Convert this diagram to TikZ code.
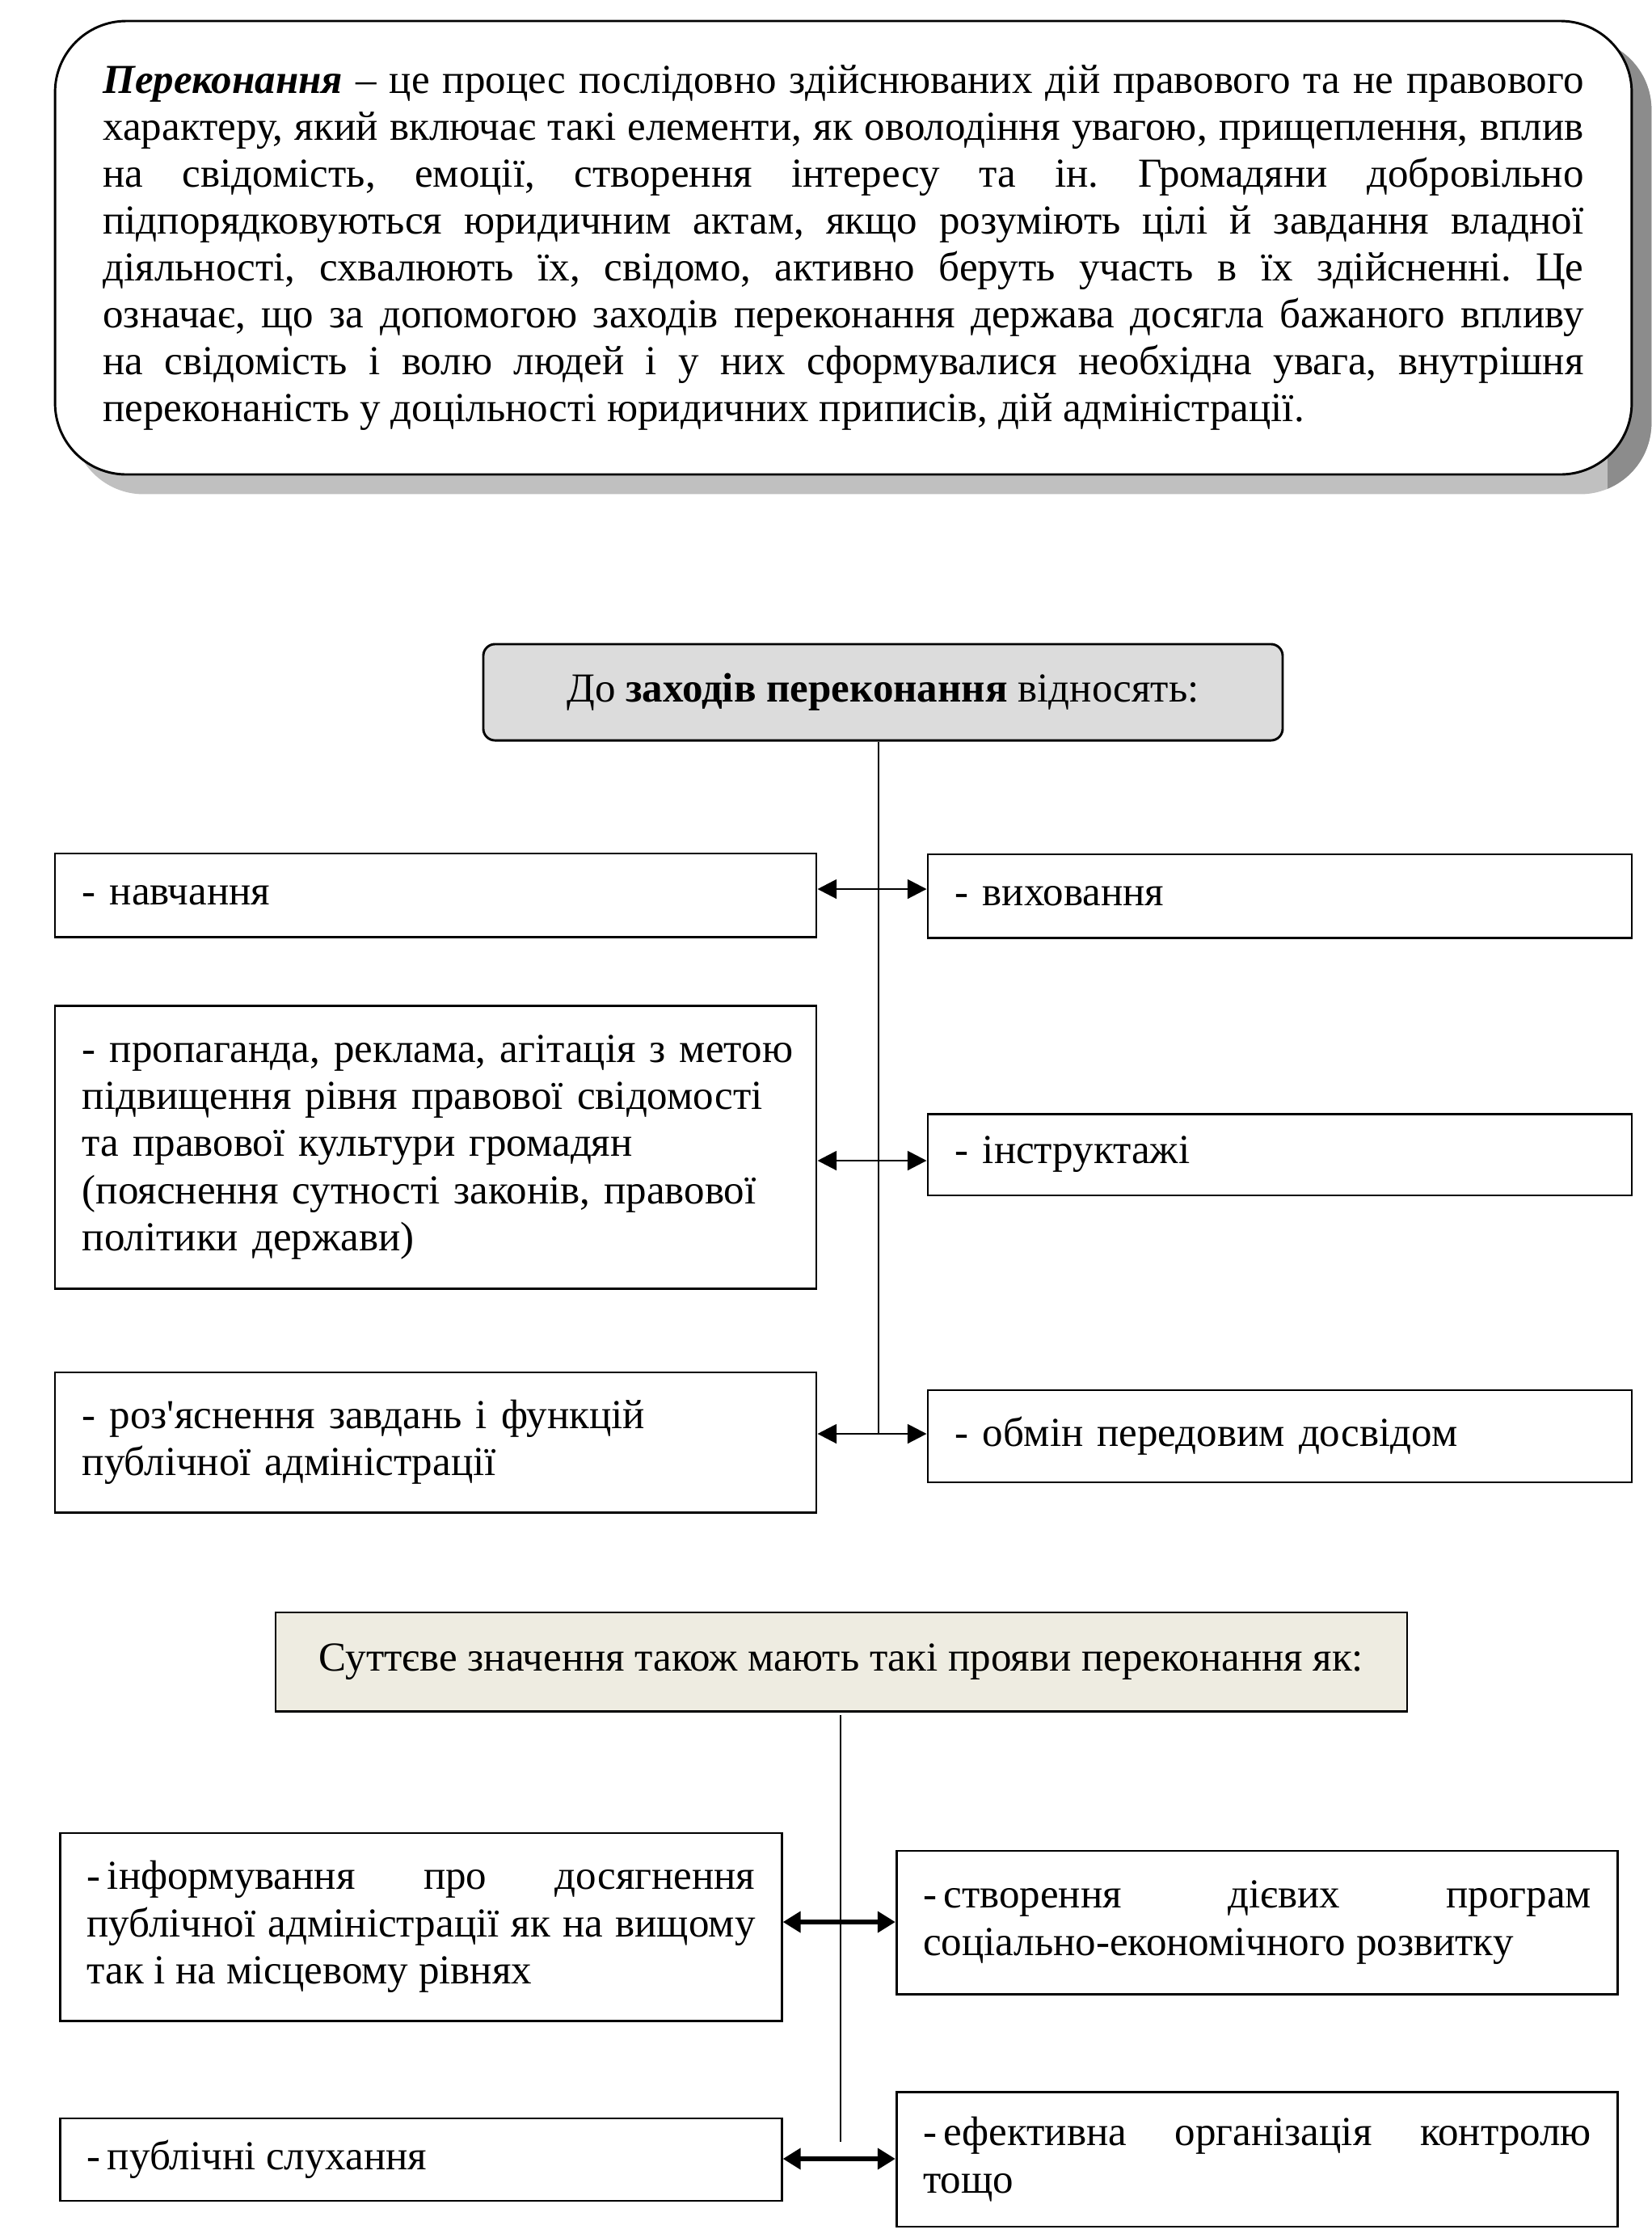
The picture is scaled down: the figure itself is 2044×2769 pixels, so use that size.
\documentclass[tikz,border=0pt]{standalone}
\usepackage{fontspec}
\setmainfont{Liberation Serif}
\usetikzlibrary{arrows.meta,backgrounds}

\definecolor{headgray}{HTML}{DCDCDC}
\definecolor{headtan}{HTML}{EEECE1}
\definecolor{shadelight}{HTML}{C0C0C0}
\definecolor{shadedark}{HTML}{8C8C8C}

\frenchspacing

\begin{document}
\begin{tikzpicture}[x=0.2745pt,y=-0.2745pt]
\tikzstyle{defbox} = [draw=black, fill=white, line width=0.8pt, rounded corners=24.2pt, inner xsep=16.3pt, align=justify, font=\fontsize{14}{15.9}\selectfont]
\tikzstyle{head} = [draw=black, line width=0.8pt, align=center, font=\fontsize{14}{16}\selectfont]
\tikzstyle{item} = [draw=black, line width=0.8pt, inner xsep=9.3pt, inner ysep=0pt, align=left, font=\fontsize{14}{16}\selectfont]
\tikzstyle{itemj} = [item, inner xsep=9pt, text width=227pt, align=justify]
\tikzstyle{trunk} = [line width=0.6pt]
\tikzstyle{link} = [{Triangle[length=6.5pt,width=6.5pt]}-{Triangle[length=6.5pt,width=6.5pt]}, line width=0.8pt]
\tikzstyle{boldlink} = [{Triangle[length=6pt,width=7pt]}-{Triangle[length=6pt,width=7pt]}, line width=1.4pt]

\useasboundingbox (0,0) rectangle (2044,2769);

% definition
\node (def) [defbox, text width=502.9pt, minimum height=154pt] at (1043.5,306.5)
{\textbf{\textit{Переконання}} – це процес послідовно здійснюваних дій правового та не правового\linebreak
характеру, який включає такі елементи, як оволодіння увагою, прищеплення, вплив\linebreak
на свідомість, емоції, створення інтересу та ін. Громадяни добровільно\linebreak
підпорядковуються юридичним актам, якщо розуміють цілі й завдання владної\linebreak
діяльності, схвалюють їх, свідомо, активно беруть участь в їх здійсненні. Це\linebreak
означає, що за допомогою заходів переконання держава досягла бажаного впливу\linebreak
на свідомість і волю людей і у них сформувалися необхідна увага, внутрішня\linebreak
переконаність у доцільності юридичних приписів, дій адміністрації.};

\begin{scope}[on background layer]
\fill[shadelight, rounded corners=24.2pt] ([shift={(23,23)}]def.south west) rectangle ([shift={(23,23)}]def.north east);
\clip (1989,0) rectangle (2044,700);
\fill[shadedark, rounded corners=24.2pt] ([shift={(23,23)}]def.south west) rectangle ([shift={(23,23)}]def.north east);
\end{scope}

% measures of persuasion
\node (head1) [head, fill=headgray, rounded corners=4pt, minimum width=271.5pt, minimum height=32.7pt] at (1092.5,856.5)
{До \textbf{заходів переконання} відносять:};

\node (nav) [item, text width=240pt, minimum height=28.3pt] at (539,1107.5) {- навчання};
\node (prop) [item, text width=240pt, minimum height=96.3pt] at (539,1419.5)
{\mbox{- пропаганда, реклама, агітація з метою}\\ підвищення рівня правової свідомості\\ та правової культури громадян\\ (пояснення сутності законів, правової\\ політики держави)};
\node (roz) [item, text width=240pt, minimum height=47.5pt] at (539,1784.5)
{- роз\textquotesingle яснення завдань і функцій\\ публічної адміністрації};

\node (vyh) [item, text width=220.5pt, minimum height=28.3pt] at (1583.5,1108.5) {- виховання};
\node (instr) [item, text width=220.5pt, minimum height=27.7pt] at (1583.5,1428.5) {- інструктажі};
\node (obm) [item, text width=220.5pt, minimum height=31.3pt] at (1583.5,1777) {- обмін передовим досвідом};

\coordinate (r1) at (1087,1100);
\coordinate (r2) at (1087,1436);
\coordinate (r3) at (1087,1774);

\draw [trunk] (head1.south -| r1) -- (r3);
\draw [link] (nav.east |- r1) -- (vyh.west |- r1);
\draw [link] (prop.east |- r2) -- (instr.west |- r2);
\draw [link] (roz.east |- r3) -- (obm.west |- r3);

% other forms
\node (head2) [head, fill=headtan, minimum width=384.3pt, minimum height=33.5pt] at (1041,2056)
{Суттєве значення також мають такі прояви переконання як:};

\node (inf) [itemj, minimum height=63.7pt] at (521,2384)
{-\,інформування про досягнення\linebreak публічної адміністрації як на вищому\linebreak так і на місцевому рівнях};
\node (slu) [itemj, minimum height=28pt] at (521,2672) {-\,публічні слухання};

\node (stv) [itemj, minimum height=48.6pt] at (1555.5,2378.5)
{-\,створення дієвих програм\linebreak соціально-економічного розвитку};
\node (efk) [itemj, minimum height=45.8pt] at (1555.5,2671.5)
{-\,ефективна організація контролю\linebreak тощо};

\coordinate (s1) at (1040,2378);
\coordinate (s2) at (1040,2671);
\coordinate (send) at (1040,2650);

\draw [trunk] ([yshift=-1pt]head2.south -| s1) -- (send);
\draw [boldlink] (inf.east |- s1) -- (stv.west |- s1);
\draw [boldlink] (slu.east |- s2) -- (efk.west |- s2);

\end{tikzpicture}
\end{document}
